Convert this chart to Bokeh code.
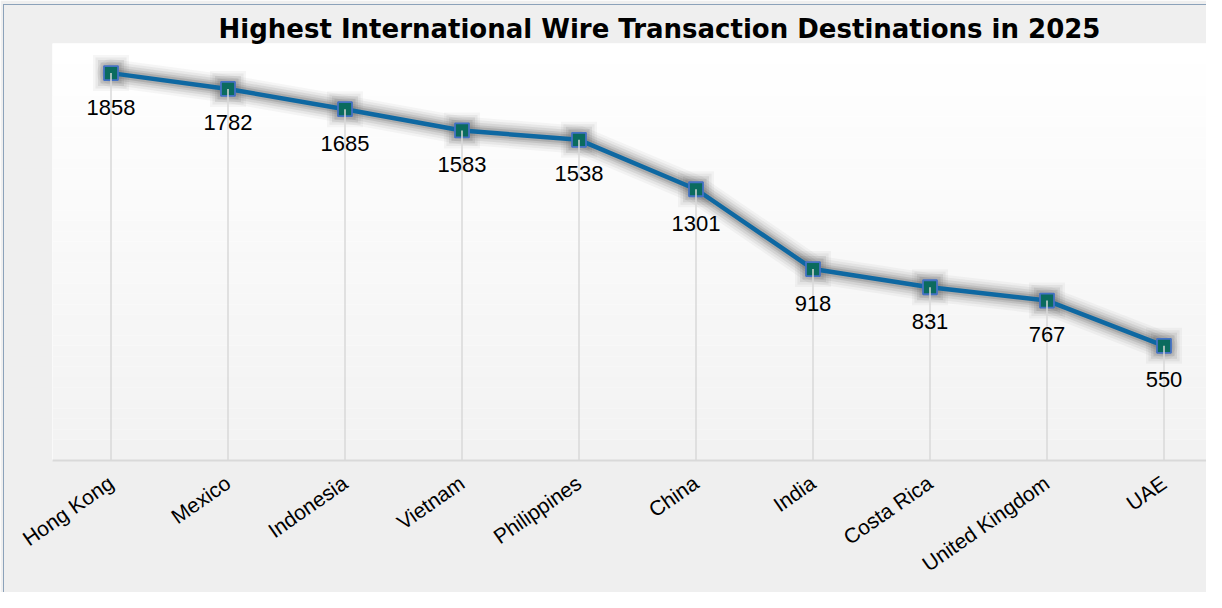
import numpy as np
from bokeh.plotting import figure
from bokeh.models import Range1d, FixedTicker, BoxAnnotation, ColumnDataSource, InlineStyleSheet
from bokeh.core.properties import value
from bokeh.embed import file_html
from bokeh.resources import INLINE

countries = ["Hong Kong", "Mexico", "Indonesia", "Vietnam", "Philippines",
             "China", "India", "Costa Rica", "United Kingdom", "UAE"]
transactions = [1858, 1782, 1685, 1583, 1538, 1301, 918, 831, 767, 550]
title_text = "Highest International Wire Transaction Destinations in 2025"

n = len(countries)
xs = np.arange(n) + 0.5
src = ColumnDataSource(dict(x=xs, y=transactions, lab=[str(v) for v in transactions],
                            zero=[0] * n))

W, H = 1206, 592
left_b, top_b, bottom_b = 52, 43, 132
frame_w = W - left_b
x_end = frame_w / 117.0

p = figure(width=W, height=H, output_backend="svg", toolbar_location=None,
           x_range=Range1d(0, x_end), y_range=Range1d(0, 2000),
           min_border_left=left_b, min_border_right=0,
           min_border_top=top_b, min_border_bottom=bottom_b)
p.border_fill_color = "#EFEFEF"
p.background_fill_color = "#FFFFFF"
p.outline_line_color = None
p.grid.visible = False
p.yaxis.visible = False

# thin chart-area border (left and top edges, as in the reference)
p.stylesheets = [InlineStyleSheet(css=(
    ":host { position: relative; }"
    ":host::after { content: ''; position: absolute; left: 3px; top: 4px; right: 0; bottom: 0;"
    " border-left: 1px solid #8CA2BA; border-top: 1px solid #8CA2BA;"
    " pointer-events: none; z-index: 10; }"))]

# gradient bands in the plot area
nb = 40
for i in range(nb):
    t = i / (nb - 1)
    c = int(round(255 - (255 - 242) * t))
    col = "#%02x%02x%02x" % (c, c, c)
    p.add_layout(BoxAnnotation(bottom=2000 - (i + 1) * 2000 / nb, top=2000 - i * 2000 / nb,
                               fill_color=col, fill_alpha=1.0, line_color=None,
                               level="underlay"))

# title
p.title.text = title_text
p.title.text_font = "DejaVu Sans"
p.title.text_font_style = "bold"
p.title.text_font_size = "26px"
p.title.align = "left"
p.title.offset = 166
p.title.standoff = 0
p.title.text_color = "#000000"

# x axis
p.xaxis.ticker = FixedTicker(ticks=list(xs))
p.xaxis.major_label_overrides = {float(x): c for x, c in zip(xs, countries)}
p.xaxis.major_label_orientation = 0.61
p.xaxis.major_label_text_font = "Liberation Sans"
p.xaxis.major_label_text_font_size = "21px"
p.xaxis.major_label_text_color = "#000000"
p.xaxis.major_label_standoff = 14
p.xaxis.major_tick_line_color = None
p.xaxis.minor_tick_line_color = None
p.xaxis.axis_line_color = "#D9D9D9"
p.xaxis.axis_line_width = 2

# glow
for w, a in [(28, 0.05), (23, 0.08), (18, 0.11), (13, 0.15), (9, 0.2)]:
    p.line("x", "y", source=src, line_color="#555555", line_width=w, line_alpha=a,
           line_join="round", line_cap="round")
for s, a in [(36, 0.05), (31, 0.08), (26, 0.11), (21, 0.15)]:
    p.scatter("x", "y", source=src, marker="square", size=s, fill_color="#555555",
              fill_alpha=a, line_color=None)

p.line("x", "y", source=src, line_color="#0E68A2", line_width=4.5, line_join="round")
p.scatter("x", "y", source=src, marker="square", size=14, fill_color="#0B6B5E",
          line_color="#4472C4", line_width=1.8)

# drop lines
p.segment(x0="x", y0="zero", x1="x", y1="y", source=src, line_color="#D9D9D9",
          line_width=1.5)

# data labels
p.text("x", "y", text="lab", source=src, text_align="center", text_baseline="middle",
       y_offset=34, text_font=value("Liberation Sans"), text_font_size="22px",
       text_color="#000000")

open("out.html", "w").write(file_html(p, INLINE))
